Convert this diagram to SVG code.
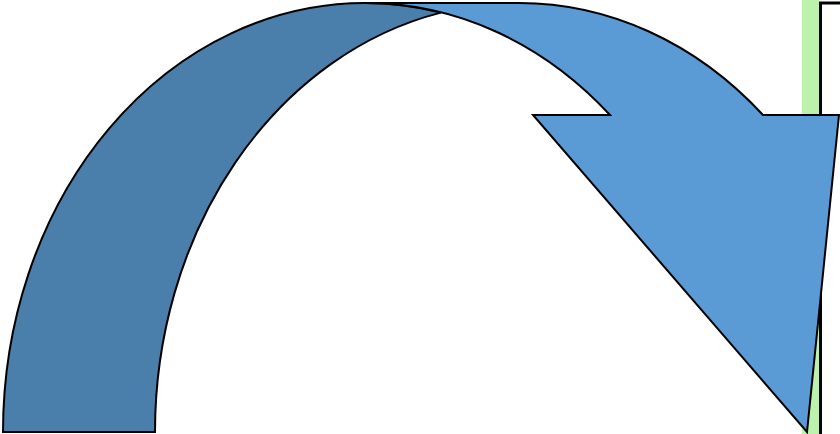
<svg xmlns="http://www.w3.org/2000/svg" width="840" height="434" viewBox="0 0 840 434">
  <style>
    .edge { stroke: #000000; stroke-width: 2; stroke-linejoin: miter; }
    .back { fill: #4A7EAB; }
    .front { fill: #5B9BD5; }
  </style>
  <rect width="840" height="434" fill="#FFFFFF"/>
  <g id="frame">
    <rect x="802" y="0" width="17" height="434" fill="#BDF2AC"/>
    <rect x="820.5" y="3" width="60" height="460" fill="#FFFFFF" stroke="#000000" stroke-width="3"/>
  </g>
  <g id="curved-arrow">
    <path class="back edge" d="M 3 432 A 362 429 0 0 1 365 3 A 362 429 0 0 1 441 12.6 A 362 429 0 0 0 155 432 Z"/>
    <path class="front edge" d="M 365 3 L 517 3 A 362 429 0 0 1 763 115 L 839 115 L 807 432 L 533 115 L 610 115 A 362 429 0 0 0 365 3 Z"/>
  </g>
</svg>
